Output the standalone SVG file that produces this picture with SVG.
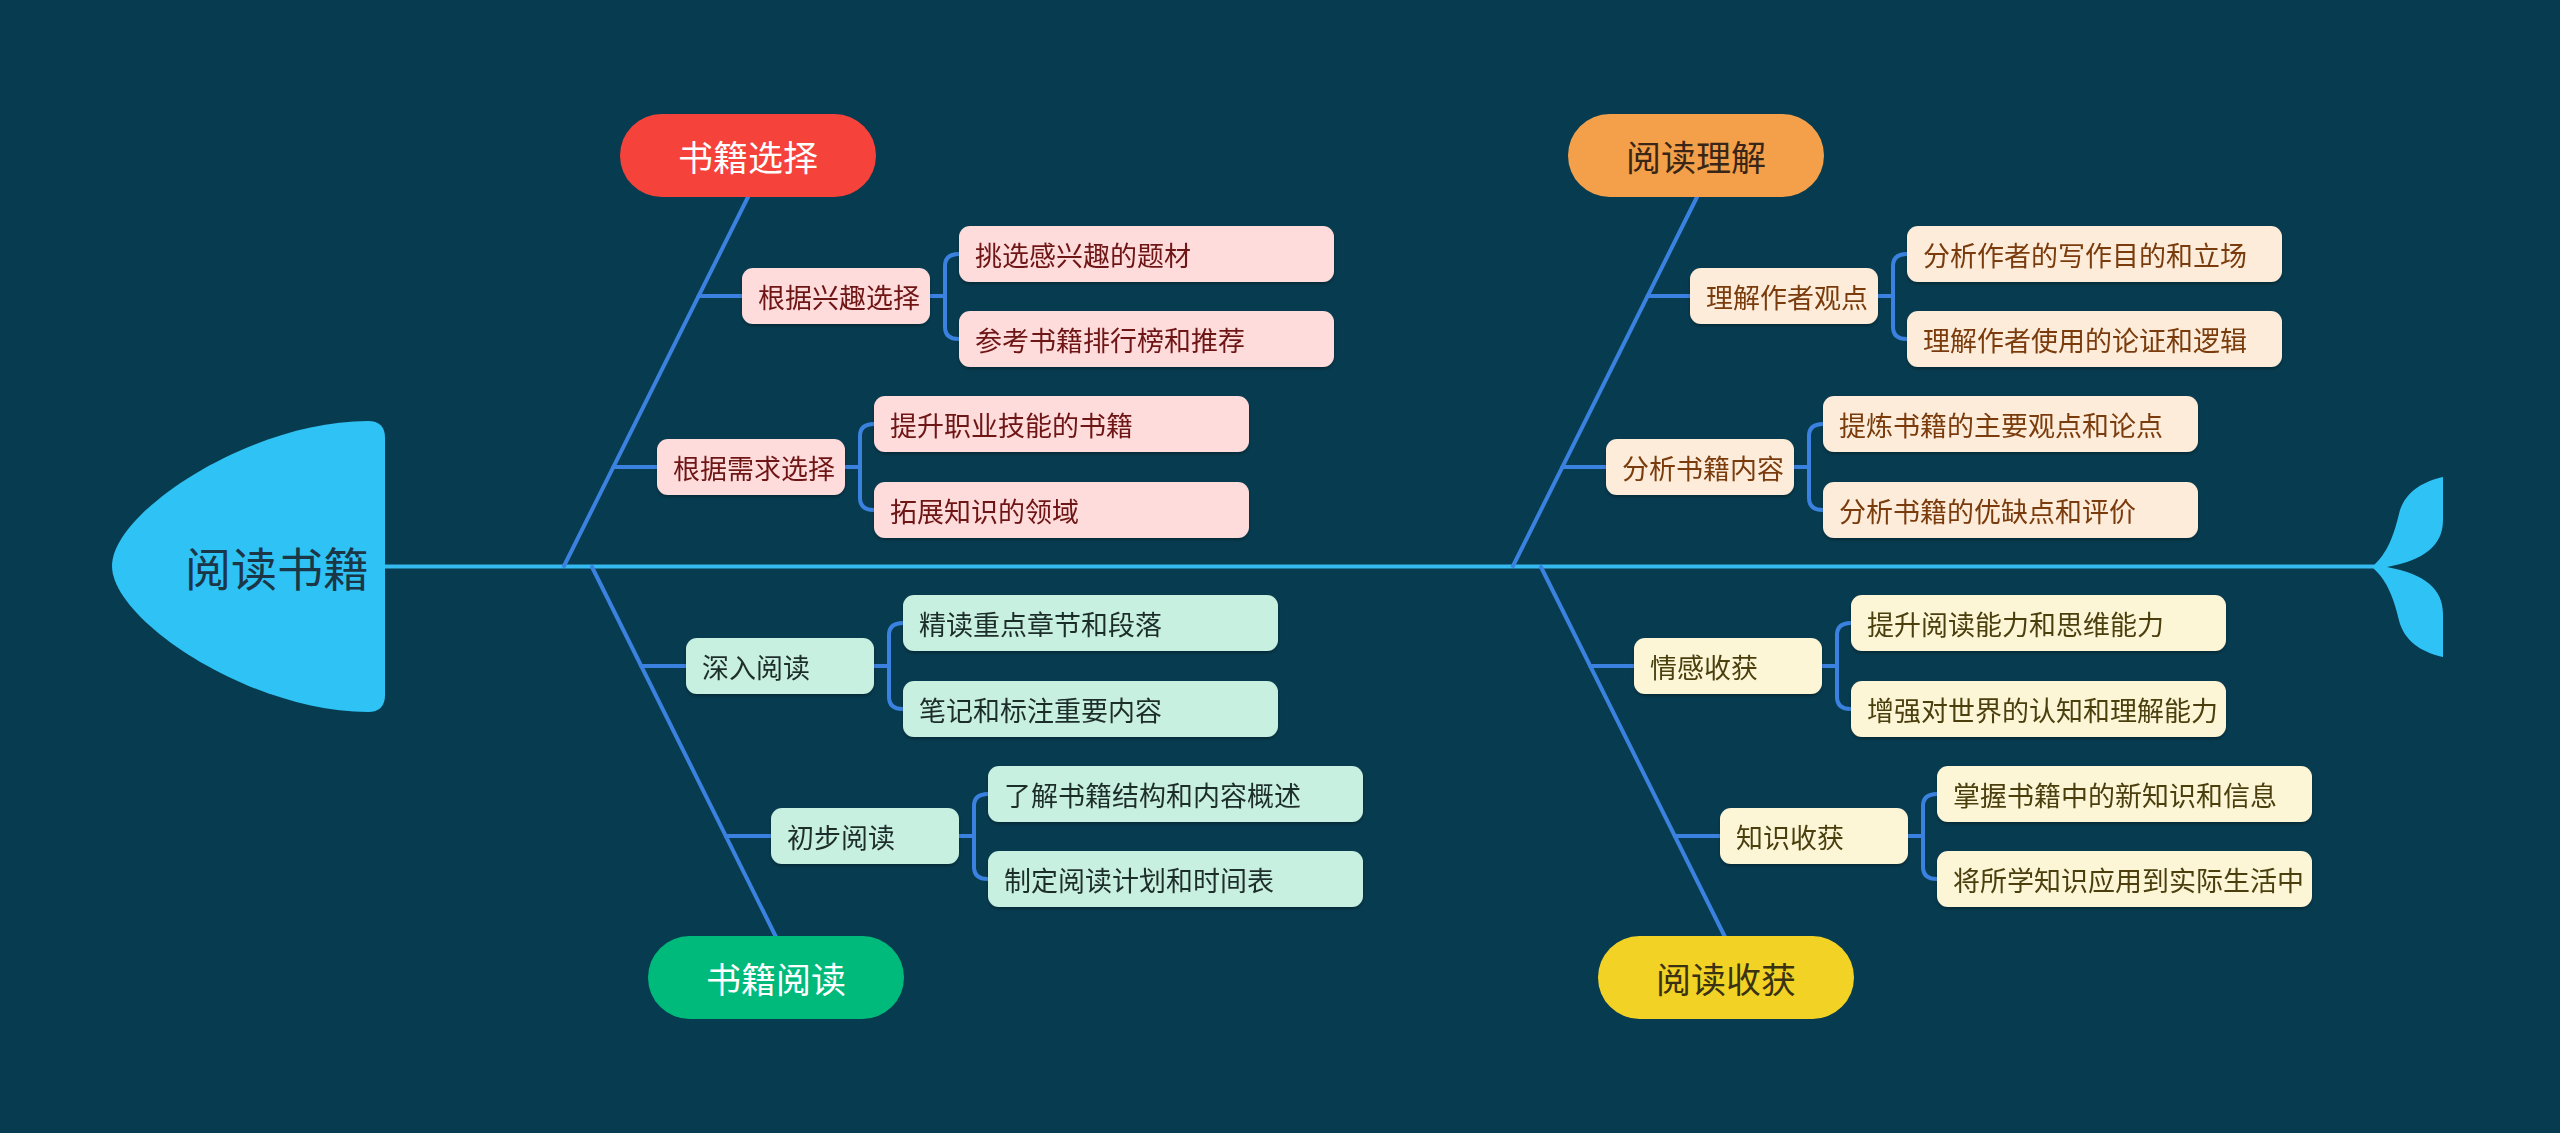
<svg xmlns="http://www.w3.org/2000/svg" width="2560" height="1133" viewBox="0 0 2560 1133">
<defs>
<style>
text{font-family:"Noto Sans CJK SC","Noto Sans",sans-serif;dominant-baseline:central}
.ln{fill:none;stroke:#3b82e0;stroke-width:4;stroke-linecap:round}
.spine{fill:none;stroke:#35b9ee;stroke-width:4}
.fish{fill:#2ec2f5}
.pill text{font-size:35px;text-anchor:middle}
.box{rx:11;ry:11}
.sub text{font-size:27px}
.pk rect{fill:#ffdcdc}.pk text{fill:#6e1414}
.mt rect{fill:#c8f0e1}.mt text{fill:#1f2d2a}
.pc rect{fill:#fcecd9}.pc text{fill:#7a3a0c}
.yl rect{fill:#fdf6d6}.yl text{fill:#4b4010}
</style>
<filter id="sh" x="-10%" y="-10%" width="120%" height="130%"><feDropShadow dx="0" dy="2" stdDeviation="1.5" flood-color="#000" flood-opacity="0.3"/></filter>
</defs>
<rect width="2560" height="1133" fill="#073b4f"/>

<g id="connectors">
<line class="spine" x1="383" y1="566.5" x2="2376" y2="566.5"/>
<line class="ln" x1="748" y1="197" x2="564" y2="566"/>
<line class="ln" x1="592" y1="567" x2="776" y2="937"/>
<line class="ln" x1="1697" y1="197" x2="1513" y2="566"/>
<line class="ln" x1="1541" y1="567" x2="1725" y2="937"/>
<path class="ln" d="M698.6,296H742M613.4,467H657M641.2,666H686M725.8,836H771M1647.6,296H1690M1562.4,467H1606M1590.2,666H1634M1674.8,836H1720"/>
<path class="ln" d="M930,296H945M959,254Q945,254 945,266V327Q945,339 959,339"/>
<path class="ln" d="M845,467H860M874,424Q860,424 860,436V498Q860,510 874,510"/>
<path class="ln" d="M874,666H889M903,623Q889,623 889,635V697Q889,709 903,709"/>
<path class="ln" d="M959,836H974M988,794Q974,794 974,806V867Q974,879 988,879"/>
<path class="ln" d="M1878,296H1893M1907,254Q1893,254 1893,266V327Q1893,339 1907,339"/>
<path class="ln" d="M1794,467H1809M1823,424Q1809,424 1809,436V498Q1809,510 1823,510"/>
<path class="ln" d="M1822,666H1837M1851,623Q1837,623 1837,635V697Q1837,709 1851,709"/>
<path class="ln" d="M1908,836H1923M1937,794Q1923,794 1923,806V867Q1923,879 1937,879"/>
</g>

<g id="head">
<path class="fish" d="M368,421Q385,421 385,438V695Q385,712 368,712C250,712 112,620 112,566C112,512 250,421 368,421Z"/>
<text x="277" y="566" font-size="46" fill="#1b3646" text-anchor="middle">阅读书籍</text>
</g>
<g id="tail">
<path class="fish" d="M2372,567C2388,553 2394,535 2400,510C2407,490 2425,481 2443,477L2443,520C2443,545 2425,560 2387,567C2425,574 2443,589 2443,614L2443,657C2425,653 2407,644 2400,624C2394,599 2388,581 2372,567Z"/>
</g>

<g id="cat-select" class="pill"><rect x="620" y="114" width="256" height="83" rx="41.5" fill="#f5433b"/><text x="748" y="155.5" fill="#ffffff">书籍选择</text></g>
<g id="cat-understand" class="pill"><rect x="1568" y="114" width="256" height="83" rx="41.5" fill="#f4a04b"/><text x="1696" y="155.5" fill="#3a2616">阅读理解</text></g>
<g id="cat-read" class="pill"><rect x="648" y="936" width="256" height="83" rx="41.5" fill="#00ba7b"/><text x="776" y="977.5" fill="#ffffff">书籍阅读</text></g>
<g id="cat-gain" class="pill"><rect x="1598" y="936" width="256" height="83" rx="41.5" fill="#f2d325"/><text x="1726" y="977.5" fill="#3a3212">阅读收获</text></g>

<g filter="url(#sh)">
<g id="n-interest" class="sub pk"><rect class="box" x="742" y="268" width="188" height="56"/><text x="758" y="296">根据兴趣选择</text></g>
<g id="n-interest-1" class="sub pk"><rect class="box" x="959" y="226" width="375" height="56"/><text x="975" y="254">挑选感兴趣的题材</text></g>
<g id="n-interest-2" class="sub pk"><rect class="box" x="959" y="311" width="375" height="56"/><text x="975" y="339">参考书籍排行榜和推荐</text></g>
<g id="n-need" class="sub pk"><rect class="box" x="657" y="439" width="188" height="56"/><text x="673" y="467">根据需求选择</text></g>
<g id="n-need-1" class="sub pk"><rect class="box" x="874" y="396" width="375" height="56"/><text x="890" y="424">提升职业技能的书籍</text></g>
<g id="n-need-2" class="sub pk"><rect class="box" x="874" y="482" width="375" height="56"/><text x="890" y="510">拓展知识的领域</text></g>

<g id="n-deep" class="sub mt"><rect class="box" x="686" y="638" width="188" height="56"/><text x="702" y="666">深入阅读</text></g>
<g id="n-deep-1" class="sub mt"><rect class="box" x="903" y="595" width="375" height="56"/><text x="919" y="623">精读重点章节和段落</text></g>
<g id="n-deep-2" class="sub mt"><rect class="box" x="903" y="681" width="375" height="56"/><text x="919" y="709">笔记和标注重要内容</text></g>
<g id="n-first" class="sub mt"><rect class="box" x="771" y="808" width="188" height="56"/><text x="787" y="836">初步阅读</text></g>
<g id="n-first-1" class="sub mt"><rect class="box" x="988" y="766" width="375" height="56"/><text x="1004" y="794">了解书籍结构和内容概述</text></g>
<g id="n-first-2" class="sub mt"><rect class="box" x="988" y="851" width="375" height="56"/><text x="1004" y="879">制定阅读计划和时间表</text></g>

<g id="n-author" class="sub pc"><rect class="box" x="1690" y="268" width="188" height="56"/><text x="1706" y="296">理解作者观点</text></g>
<g id="n-author-1" class="sub pc"><rect class="box" x="1907" y="226" width="375" height="56"/><text x="1923" y="254">分析作者的写作目的和立场</text></g>
<g id="n-author-2" class="sub pc"><rect class="box" x="1907" y="311" width="375" height="56"/><text x="1923" y="339">理解作者使用的论证和逻辑</text></g>
<g id="n-content" class="sub pc"><rect class="box" x="1606" y="439" width="188" height="56"/><text x="1622" y="467">分析书籍内容</text></g>
<g id="n-content-1" class="sub pc"><rect class="box" x="1823" y="396" width="375" height="56"/><text x="1839" y="424">提炼书籍的主要观点和论点</text></g>
<g id="n-content-2" class="sub pc"><rect class="box" x="1823" y="482" width="375" height="56"/><text x="1839" y="510">分析书籍的优缺点和评价</text></g>

<g id="n-emotion" class="sub yl"><rect class="box" x="1634" y="638" width="188" height="56"/><text x="1650" y="666">情感收获</text></g>
<g id="n-emotion-1" class="sub yl"><rect class="box" x="1851" y="595" width="375" height="56"/><text x="1867" y="623">提升阅读能力和思维能力</text></g>
<g id="n-emotion-2" class="sub yl"><rect class="box" x="1851" y="681" width="375" height="56"/><text x="1867" y="709">增强对世界的认知和理解能力</text></g>
<g id="n-know" class="sub yl"><rect class="box" x="1720" y="808" width="188" height="56"/><text x="1736" y="836">知识收获</text></g>
<g id="n-know-1" class="sub yl"><rect class="box" x="1937" y="766" width="375" height="56"/><text x="1953" y="794">掌握书籍中的新知识和信息</text></g>
<g id="n-know-2" class="sub yl"><rect class="box" x="1937" y="851" width="375" height="56"/><text x="1953" y="879">将所学知识应用到实际生活中</text></g>
</g>
</svg>
